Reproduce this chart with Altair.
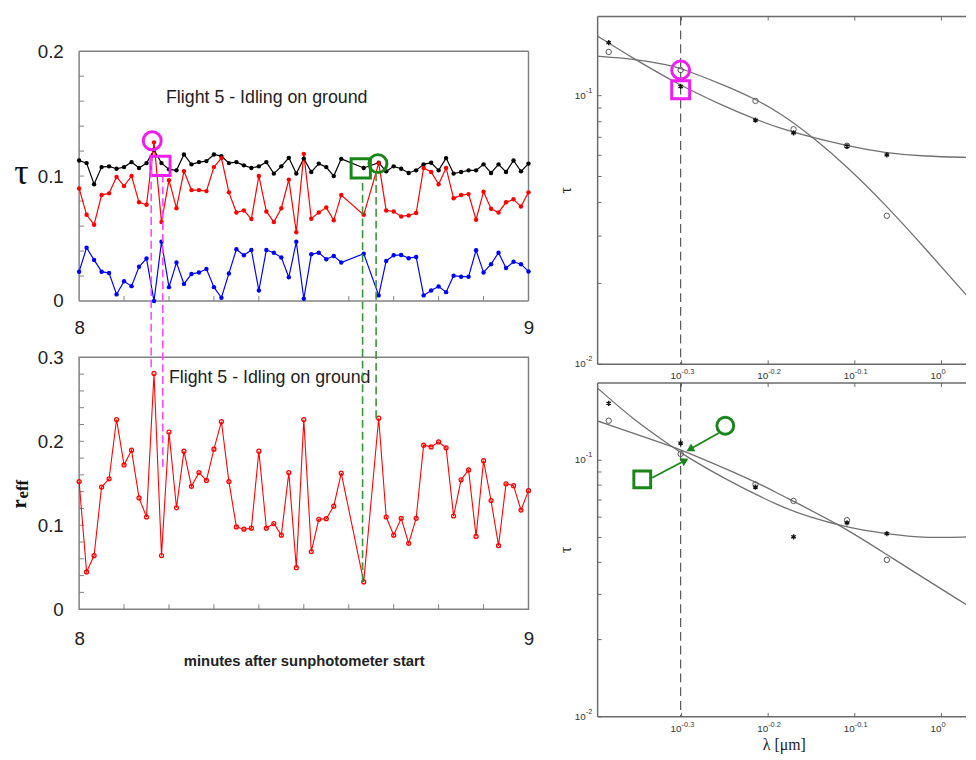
import altair as alt
import pandas as pd

# ---------------- left panels: one sample per second between 8 and 9 minutes ----------------
seconds = list(range(0, 36)) + [38] + list(range(40, 61))
tau_total = [0.1125, 0.1104, 0.0935, 0.1072, 0.1078, 0.1059, 0.1072, 0.1112, 0.1065, 0.1104,
             0.121, 0.1104, 0.1054, 0.1046, 0.1173, 0.1094, 0.1112, 0.112, 0.1173, 0.116,
             0.1104, 0.1112, 0.1086, 0.1065, 0.1078, 0.1112, 0.102, 0.1078, 0.1146, 0.102,
             0.114, 0.1033, 0.110, 0.1072, 0.100, 0.1138,
             0.1065,
             0.1107, 0.1038, 0.1078, 0.1059, 0.1025, 0.1046, 0.1094, 0.1107, 0.1046, 0.1144,
             0.102, 0.1033, 0.1046, 0.1046, 0.1094, 0.1025, 0.1094, 0.1033, 0.1125, 0.1038, 0.110]
tau_fine = [0.0901, 0.069, 0.0611, 0.0848, 0.0862, 0.0993, 0.092, 0.1001, 0.079, 0.077,
            0.127, 0.0632, 0.0967, 0.0743, 0.104, 0.0888, 0.0888, 0.088, 0.1072, 0.1144,
            0.087, 0.0709, 0.0725, 0.0656, 0.1001, 0.0717, 0.0632, 0.0743, 0.0972, 0.0551,
            0.1178, 0.0659, 0.0709, 0.0748, 0.0646, 0.0848,
            0.069,
            0.1104, 0.0725, 0.0717, 0.0677, 0.0685, 0.0704, 0.1065, 0.1033, 0.0935, 0.1065,
            0.0822, 0.0848, 0.0856, 0.0651, 0.0875, 0.0738, 0.0709, 0.079, 0.0814, 0.0756, 0.087]
tau_coarse = [0.0235, 0.0427, 0.0329, 0.0235, 0.0224, 0.0053, 0.0158, 0.0119, 0.0274, 0.034,
              0.0, 0.0474, 0.0111, 0.0308, 0.0137, 0.0216, 0.0229, 0.0256, 0.0111, 0.0026,
              0.0221, 0.0414, 0.0366, 0.0408, 0.0084, 0.0408, 0.0387, 0.0348, 0.019, 0.0474,
              0.0018, 0.0374, 0.0387, 0.0335, 0.0361, 0.0308,
              0.0379,
              0.0045, 0.0321, 0.0366, 0.0369, 0.0343, 0.0353, 0.0045, 0.0084, 0.0116, 0.0071,
              0.0203, 0.0195, 0.0195, 0.0406, 0.0229, 0.0295, 0.0387, 0.0264, 0.0314, 0.0295, 0.0237]
r_eff = [0.152, 0.0443, 0.0639, 0.1455, 0.1553, 0.2259, 0.1718, 0.1894, 0.1325, 0.1098,
         0.2808, 0.0639, 0.211, 0.1208, 0.1882, 0.1463, 0.1627, 0.1533, 0.1906, 0.2235,
         0.152, 0.098, 0.0953, 0.0965, 0.1882, 0.0965, 0.102, 0.0882, 0.1627, 0.0494,
         0.2259, 0.0686, 0.1071, 0.1078, 0.1227, 0.162,
         0.0325,
         0.2275, 0.1098, 0.0882, 0.1082, 0.0784, 0.1082, 0.1953, 0.1933, 0.1992, 0.1922,
         0.111, 0.1541, 0.1659, 0.0867, 0.1769, 0.1294, 0.0757, 0.1494, 0.1471, 0.118, 0.1412]

# highlighted samples (top panel markers) and connector lines down to the r_eff panel
mark_t = [8.1627, 8.181, 8.6267, 8.665]
mark_tau = [0.1283, 0.1081, 0.1061, 0.110]
mark_shape = ['circle', 'square', 'square', 'circle']
mark_hex = ['#f01ef0', '#f01ef0', '#1a861a', '#1a861a']
conn_t = [8.1604, 8.1862, 8.6308, 8.6609]
conn_bottom = [0.2882, 0.1694, 0.0325, 0.2275]
conn_top = [0.5412, 0.5153, 0.5118, 0.5188]
conn_hex = ['#ff4aff', '#ff4aff', '#3a933a', '#3a933a']

# ---------------- right panels: spectral optical depth ----------------
wl_pts = [0.413, 0.500, 0.610, 0.675, 0.778, 0.865]
top_circles = [0.1455, 0.1246, 0.0956, 0.075, 0.0651, 0.0357]
top_stars = [0.1575, 0.1082, 0.0811, 0.0727, 0.0648, 0.0602]
bot_circles = [0.1426, 0.1058, 0.0805, 0.0694, 0.0584, 0.0409]
bot_stars = [0.1667, 0.1167, 0.0786, 0.0503, 0.057, 0.0518]

topA_wl = [0.3999, 0.4405, 0.4856, 0.5012, 0.5626, 0.6103, 0.6533, 0.7106, 0.7810, 0.8609, 0.9561, 1.076]
topA_tau = [0.1403, 0.1373, 0.130, 0.1262, 0.1093, 0.0971, 0.0855, 0.0701, 0.0539, 0.0394, 0.0272, 0.01763]
topB_wl = [0.3999, 0.4405, 0.5012, 0.5626, 0.6103, 0.6533, 0.7106, 0.7749, 0.8609, 0.9561, 1.076]
topB_tau = [0.1676, 0.1379, 0.1083, 0.0911, 0.0816, 0.0753, 0.0698, 0.0652, 0.0612, 0.0594, 0.0589]
botC_wl = [0.4003, 0.4895, 0.5, 0.609, 0.645, 0.7714, 0.861, 1.079]
botC_tau = [0.1426, 0.1129, 0.110, 0.0829, 0.0747, 0.055, 0.0432, 0.0268]
botD_wl = [0.4003, 0.4445, 0.4895, 0.5, 0.563, 0.6532, 0.7037, 0.7714, 0.8646, 0.9645, 1.079]
botD_tau = [0.1919, 0.1407, 0.1129, 0.1067, 0.0842, 0.0657, 0.0601, 0.055, 0.0515, 0.0497, 0.0503]

top_mark_wl = [0.5, 0.5]
top_mark_tau = [0.1246, 0.1052]
bot_mark_wl = [0.563, 0.4515]
bot_mark_tau = [0.1363, 0.0842]
arrow_wl = [0.5534, 0.4636]
arrow_tau = [0.1276, 0.0854]
arrow_wl2 = [0.5124, 0.5058]
arrow_tau2 = [0.1103, 0.0998]
arrow_angle = [240.8, 62.2]

x_tick_wl = [10 ** -0.3, 10 ** -0.2, 10 ** -0.1, 1.0]
x_tick_exp = ['-0.3', '-0.2', '-0.1', '0']
y_tick_tau = [0.01, 0.02, 0.03, 0.04, 0.05, 0.06, 0.07, 0.08, 0.09, 0.1]
y_label_tau = [0.1, 0.01]
y_label_exp = ['-1', '-2']

# ---------------- styling ----------------
MAG = '#f01ef0'
GRN = '#1a861a'
FRAME = '#808080'
RFRAME = '#6a6a6a'
W_L, H_LT, GAP_LT, H_LB = 455, 253, 35, 255
W_R, H_RT, H_RB = 373, 352, 338
SANS = 'Liberation Sans'
SERIF = 'Liberation Serif'
TAU_MAX = 0.2 * (H_LT + GAP_LT) / H_LT   # empty band above the top-left frame

minutes = [8 + s / 60 for s in seconds]
ts = pd.DataFrame({'t': minutes, 'total': tau_total, 'fine': tau_fine, 'coarse': tau_coarse})
ts_long = ts.melt('t', var_name='series', value_name='tau')
reff_df = pd.DataFrame({'t': minutes, 'reff': r_eff})

x_time = alt.Scale(domain=[8, 9], nice=False, zero=False)
series_color = alt.Scale(domain=['fine', 'coarse', 'total'], range=['#ff0000', '#0000ff', '#000000'])


def time_axis(pad, title=None):
    kw = dict(values=[8, 9], format='d', labelFlush=False, labelFontSize=19, labelColor='#222',
              labelPadding=pad, labelBaseline='middle', ticks=False, tickSize=0, domain=False, grid=False)
    if title:
        kw.update(title=title, titleFontSize=15, titleFontWeight='bold', titleColor='#222',
                  titleY=52, titleBaseline='middle')
    else:
        kw.update(title=None)
    return alt.Axis(**kw)


tick_t = pd.DataFrame({'t': [8 + k / 10 for k in range(1, 10)]})
H_LTT = H_LT + GAP_LT

# ---- top-left: tau time series ----
X_LT = alt.X('t:Q', scale=x_time, axis=time_axis(27))
Y_LT = alt.Y('tau:Q', scale=alt.Scale(domain=[0, TAU_MAX], nice=False, zero=False),
             axis=alt.Axis(values=[0, 0.1, 0.2],
                           labelExpr="datum.value == 0 ? '0' : format(datum.value, '.1f')",
                           labelFontSize=19, labelColor='#222', labelPadding=16, ticks=False, tickSize=0,
                           domain=False, grid=False, title='τ', titleAngle=0, titleFont=SERIF,
                           titleFontSize=36, titleFontWeight='normal', titleColor='#111',
                           titleAlign='center', titleBaseline='middle', titleX=-59, titleY=158))

one = pd.DataFrame({'v': [0]})
frame_df = pd.DataFrame({'tau': [0.0], 'tau_hi': [0.2]})
lt_frame = [
    alt.Chart(frame_df).mark_rule(color=FRAME, strokeWidth=1.5).encode(
        x=alt.value(0), y=Y_LT, y2='tau_hi:Q'),
    alt.Chart(frame_df).mark_rule(color=FRAME, strokeWidth=1.5).encode(
        x=alt.value(W_L), y=Y_LT, y2='tau_hi:Q'),
    alt.Chart(pd.DataFrame({'tau': [0.2]})).mark_rule(color=FRAME, strokeWidth=1.5).encode(
        y=Y_LT, x=alt.value(0), x2=alt.value(W_L)),
    alt.Chart(pd.DataFrame({'tau': [0.0]})).mark_rule(color=FRAME, strokeWidth=1.5).encode(
        y=Y_LT, x=alt.value(0), x2=alt.value(W_L)),
]
lt_xt = alt.Chart(tick_t).mark_rule(color=FRAME, strokeWidth=1).encode(
    x=X_LT, y=alt.value(H_LTT), y2=alt.value(H_LTT - 5))
lt_yt = alt.Chart(pd.DataFrame({'tau': [k * 0.02 for k in range(1, 10)]})).mark_rule(
    color=FRAME, strokeWidth=1).encode(y=Y_LT, x=alt.value(0), x2=alt.value(5))
lt_lines = alt.Chart(ts_long).mark_line(strokeWidth=1.2).encode(
    x=X_LT, y=Y_LT, color=alt.Color('series:N', scale=series_color, legend=None))
lt_pts = alt.Chart(ts_long).mark_circle(size=20, opacity=1).encode(
    x=X_LT, y=Y_LT, color=alt.Color('series:N', scale=series_color, legend=None))
mk_df = pd.DataFrame({'t': mark_t, 'tau': mark_tau, 'shape': mark_shape, 'hex': mark_hex})
lt_mk_c = alt.Chart(mk_df).transform_filter("datum.shape == 'circle'").mark_point(
    shape='circle', size=330, filled=False, strokeWidth=3, opacity=1).encode(
    x=X_LT, y=Y_LT, color=alt.Color('hex:N', scale=None))
lt_mk_s = alt.Chart(mk_df).transform_filter("datum.shape == 'square'").mark_point(
    shape='square', size=380, filled=False, strokeWidth=3, opacity=1).encode(
    x=X_LT, y=Y_LT, color=alt.Color('hex:N', scale=None))
lt_txt = alt.Chart(pd.DataFrame({'t': [8.1934], 'tau': [0.1625], 'txt': ['Flight 5 - Idling on ground']})).mark_text(
    align='left', baseline='middle', fontSize=18, color='#222', font=SANS).encode(x=X_LT, y=Y_LT, text='txt:N')

lt = alt.layer(*lt_frame, lt_xt, lt_yt, lt_lines, lt_pts, lt_mk_c, lt_mk_s, lt_txt).properties(
    width=W_L, height=H_LTT, view=alt.ViewBackground(stroke='transparent'))

# ---- bottom-left: effective radius ----
X_LB = alt.X('t:Q', scale=x_time, axis=time_axis(30, 'minutes after sunphotometer start'))
Y_LB = alt.Y('reff:Q', scale=alt.Scale(domain=[0, 0.3], nice=False, zero=False),
             axis=alt.Axis(values=[0, 0.1, 0.2, 0.3],
                           labelExpr="datum.value == 0 ? '0' : format(datum.value, '.1f')",
                           labelFontSize=19, labelColor='#222', labelPadding=16, ticks=False, tickSize=0,
                           domain=False, grid=False, title=None))
lb_xt = alt.Chart(tick_t).mark_rule(color=FRAME, strokeWidth=1).encode(
    x=X_LB, y=alt.value(H_LB), y2=alt.value(H_LB - 5))
lb_yt = alt.Chart(pd.DataFrame({'reff': [k * 0.02 for k in range(1, 15)]})).mark_rule(
    color=FRAME, strokeWidth=1).encode(y=Y_LB, x=alt.value(0), x2=alt.value(5))
lb_line = alt.Chart(reff_df).mark_line(color='#ff0000', strokeWidth=1.1).encode(x=X_LB, y=Y_LB)
lb_pts = alt.Chart(reff_df).mark_point(shape='circle', size=16, filled=False, color='#ff0000',
                                       strokeWidth=1.3, opacity=1).encode(x=X_LB, y=Y_LB)
lb_txt = alt.Chart(pd.DataFrame({'t': [8.2], 'reff': [0.2753], 'txt': ['Flight 5 - Idling on ground']})).mark_text(
    align='left', baseline='middle', fontSize=18, color='#222', font=SANS).encode(x=X_LB, y=Y_LB, text='txt:N')
conn_df = pd.DataFrame({'t': conn_t, 'reff': conn_bottom, 'reff_top': conn_top, 'hex': conn_hex})
lb_conn = alt.Chart(conn_df).mark_rule(strokeWidth=1.6, strokeDash=[8, 4], clip=False).encode(
    x=X_LB, y=Y_LB, y2='reff_top:Q', color=alt.Color('hex:N', scale=None))
lb_r = alt.Chart(pd.DataFrame({'s': ['r']})).mark_text(
    align='left', baseline='alphabetic', angle=270, font=SERIF, fontSize=21, fontWeight='bold',
    color='#111').encode(x=alt.value(-53.5), y=alt.value(153), text='s:N')
lb_eff = alt.Chart(pd.DataFrame({'s': ['eff']})).mark_text(
    align='left', baseline='alphabetic', angle=270, font=SERIF, fontSize=17, fontWeight='bold',
    color='#111').encode(x=alt.value(-52), y=alt.value(143), text='s:N')

lb = alt.layer(lb_xt, lb_yt, lb_line, lb_pts, lb_txt, lb_conn, lb_r, lb_eff).properties(width=W_L, height=H_LB)


# ---- right panels ----
def spectral_panel(h, ydom, circles, stars, fits, mark_layers):
    xsc = alt.Scale(type='log', domain=[0.401, 1.0676], nice=False)
    ysc = alt.Scale(type='log', domain=ydom, nice=False)
    XL = alt.X('lam:Q', scale=xsc, axis=None)
    YL = alt.Y('tau:Q', scale=ysc, axis=None)
    borders = [
        alt.Chart(one).mark_rule(color=RFRAME, strokeWidth=1.5).encode(x=alt.value(0), y=alt.value(0), y2=alt.value(h)),
        alt.Chart(one).mark_rule(color=RFRAME, strokeWidth=1.5).encode(x=alt.value(0), x2=alt.value(W_R), y=alt.value(0)),
        alt.Chart(one).mark_rule(color=RFRAME, strokeWidth=1.5).encode(x=alt.value(0), x2=alt.value(W_R), y=alt.value(h)),
    ]
    xt_df = pd.DataFrame({'lam': x_tick_wl, 'exp': x_tick_exp, 'base': ['10'] * 4})
    yt_df = pd.DataFrame({'tau': y_tick_tau})
    yl_df = pd.DataFrame({'tau': y_label_tau, 'exp': y_label_exp, 'base': ['10'] * 2})
    ticks = [
        alt.Chart(xt_df).mark_rule(color=RFRAME).encode(x=XL, y=alt.value(0), y2=alt.value(4)),
        alt.Chart(xt_df).mark_rule(color=RFRAME).encode(x=XL, y=alt.value(h), y2=alt.value(h - 4)),
        alt.Chart(yt_df).mark_rule(color=RFRAME).encode(y=YL, x=alt.value(0), x2=alt.value(4)),
    ]
    labels = [
        alt.Chart(xt_df).mark_text(align='right', baseline='alphabetic', fontSize=10, color='#333', font=SANS).encode(
            x=XL, y=alt.value(h + 15), text='base:N'),
        alt.Chart(xt_df).mark_text(align='left', baseline='alphabetic', fontSize=7.5, color='#333', font=SANS).encode(
            x=XL, y=alt.value(h + 10), text='exp:N'),
        alt.Chart(yl_df).mark_text(align='right', baseline='middle', fontSize=10, color='#333', font=SANS).encode(
            y=YL, x=alt.value(-12), text='base:N'),
        alt.Chart(yl_df).mark_text(align='left', baseline='middle', fontSize=7.5, color='#333', font=SANS, dy=-5).encode(
            y=YL, x=alt.value(-12), text='exp:N'),
        alt.Chart(pd.DataFrame({'s': ['τ']})).mark_text(angle=270, fontSize=16, font=SERIF, color='#222').encode(
            x=alt.value(-32), y=alt.value(h / 2), text='s:N'),
    ]
    dash = alt.Chart(pd.DataFrame({'lam': [0.5]})).mark_rule(color='#555', strokeWidth=1.2, strokeDash=[9, 5]).encode(x=XL)
    fit_rows = []
    for name, (wl, tv) in fits.items():
        fit_rows += [{'lam': a, 'tau': b, 'curve': name} for a, b in zip(wl, tv)]
    curves = alt.Chart(pd.DataFrame(fit_rows)).mark_line(color='#707070', strokeWidth=1.3,
                                                         interpolate='basis', clip=True).encode(
        x=XL, y=YL, detail='curve:N')
    pts = pd.DataFrame({'lam': wl_pts, 'tau_c': circles, 'tau_s': stars})
    circ = alt.Chart(pts).mark_point(shape='circle', size=30, filled=False, color='#555', strokeWidth=1,
                                     opacity=1).encode(x=XL, y=alt.Y('tau_c:Q', scale=ysc, axis=None))
    star = alt.Chart(pts).mark_point(shape='M0,-1L0,1M-0.87,-0.5L0.87,0.5M-0.87,0.5L0.87,-0.5', size=28,
                                     filled=False, color='#111', strokeWidth=1.4, opacity=1).encode(
        x=XL, y=alt.Y('tau_s:Q', scale=ysc, axis=None))
    extra = [f(XL, YL) for f in mark_layers]
    return alt.layer(*borders, *ticks, dash, curves, circ, star, *labels, *extra).properties(
        width=W_R, height=h, view=alt.ViewBackground(stroke='transparent'))


def top_marks(XL, YL):
    d = pd.DataFrame({'lam': top_mark_wl, 'tau': top_mark_tau, 'shape': ['circle', 'square']})
    return alt.Chart(d).mark_point(filled=False, strokeWidth=3, size=330, color=MAG, opacity=1).encode(
        x=XL, y=YL, shape=alt.Shape('shape:N', scale=None))


def bot_marks(XL, YL):
    d = pd.DataFrame({'lam': bot_mark_wl, 'tau': bot_mark_tau, 'shape': ['circle', 'square']})
    return alt.Chart(d).mark_point(filled=False, strokeWidth=3, size=290, color=GRN, opacity=1).encode(
        x=XL, y=YL, shape=alt.Shape('shape:N', scale=None))


def bot_arrows(XL, YL):
    d = pd.DataFrame({'lam': arrow_wl, 'tau': arrow_tau, 'lam2': arrow_wl2, 'tau2': arrow_tau2})
    return alt.Chart(d).mark_rule(color=GRN, strokeWidth=1.8).encode(x=XL, y=YL, x2='lam2:Q', y2='tau2:Q')


def bot_heads(XL, YL):
    d = pd.DataFrame({'lam': arrow_wl2, 'tau': arrow_tau2, 'ang': arrow_angle})
    return alt.Chart(d).mark_point(shape='triangle-up', filled=True, size=80, color=GRN, opacity=1).encode(
        x=XL, y=YL, angle=alt.Angle('ang:Q', scale=None))


def bot_title(XL, YL):
    return alt.Chart(pd.DataFrame({'s': ['λ [μm]']})).mark_text(
        fontSize=16, font=SERIF, color='#222', baseline='middle').encode(
        x=alt.value(189), y=alt.value(H_RB + 29), text='s:N')


rt = spectral_panel(H_RT, [0.01, 0.197], top_circles, top_stars,
                    {'A': (topA_wl, topA_tau), 'B': (topB_wl, topB_tau)}, [top_marks])
rb = spectral_panel(H_RB, [0.01, 0.2], bot_circles, bot_stars,
                    {'C': (botC_wl, botC_tau), 'D': (botD_wl, botD_tau)},
                    [bot_marks, bot_arrows, bot_heads, bot_title])

left = alt.vconcat(lt, lb, spacing=57, bounds='flush')
right = alt.vconcat(rt, rb, spacing=19, bounds='flush')

chart = alt.hconcat(left, right, spacing=22).properties(
    padding={'left': 0, 'top': 2, 'right': 0, 'bottom': 0}, background='white'
).configure_view(
    stroke=FRAME, strokeWidth=1.5
).configure_axis(
    labelFont=SANS, titleFont=SANS
).configure_text(font=SANS)

chart.save('out.html', embed_options={'renderer': 'svg', 'actions': False})
